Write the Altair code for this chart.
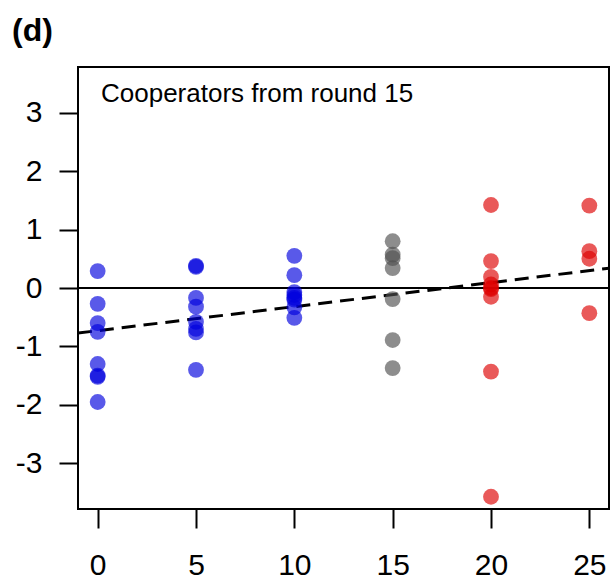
import altair as alt
import pandas as pd

round_0 = [0.29, -0.27, -0.60, -0.75, -1.30, -1.50, -1.52, -1.95]
round_5 = [0.38, 0.36, -0.17, -0.32, -0.58, -0.70, -0.76, -1.40]
round_10 = [0.55, 0.22, -0.07, -0.12, -0.17, -0.20, -0.33, -0.51]
round_15 = [0.80, 0.57, 0.51, 0.34, -0.19, -0.89, -1.37]
round_20 = [1.42, 0.46, 0.19, 0.06, 0.00, -0.02, -0.15, -1.43, -3.57]
round_25 = [1.41, 0.63, 0.50, -0.43]

groups = [(0, round_0, "before"), (5, round_5, "before"), (10, round_10, "before"),
          (15, round_15, "switch"), (20, round_20, "after"), (25, round_25, "after")]

x_ticks = [0, 5, 10, 15, 20, 25]
y_ticks = [-3, -2, -1, 0, 1, 2, 3]
x_domain = [-1, 26]
y_domain = [-3.78, 3.78]

# fitted trend (dashed line)
fit_intercept = -0.73
fit_slope = 0.0411

rows = []
for r, vals, g in groups:
    for v in vals:
        rows.append({"round": r, "value": v, "group": g})
df = pd.DataFrame(rows)

fit_df = pd.DataFrame({"round": x_domain,
                       "value": [fit_intercept + fit_slope * x for x in x_domain]})

FONT = "Liberation Sans"

xs = alt.Scale(domain=x_domain, nice=False, zero=False)
ys = alt.Scale(domain=y_domain, nice=False, zero=False)

x_axis = alt.Axis(values=x_ticks, title=None, labelPadding=22, tickSize=19,
                  labelFontSize=30, labelExpr="'' + datum.value")
y_axis = alt.Axis(values=y_ticks, title=None, labelPadding=17, tickSize=19,
                  labelFontSize=30, labelExpr="'' + datum.value")

points = alt.Chart(df).mark_circle(size=250, opacity=0.65, stroke=None).encode(
    x=alt.X("round:Q", scale=xs, axis=x_axis),
    y=alt.Y("value:Q", scale=ys, axis=y_axis),
    color=alt.Color("group:N", legend=None,
                    scale=alt.Scale(domain=["before", "switch", "after"],
                                    range=["#0000DD", "#505050", "#DD0000"])),
)

zero = alt.Chart(pd.DataFrame({"y": [0]})).mark_rule(color="black", strokeWidth=2).encode(
    y=alt.Y("y:Q", scale=ys)
)

trend = alt.Chart(fit_df).mark_line(color="black", strokeWidth=3, strokeDash=[14, 8],
                                    clip=True).encode(
    x=alt.X("round:Q", scale=xs),
    y=alt.Y("value:Q", scale=ys),
)

label = alt.Chart(pd.DataFrame({"t": ["Cooperators from round 15"]})).mark_text(
    align="left", baseline="alphabetic", fontSize=26, font=FONT, color="black"
).encode(text="t:N", x=alt.value(23), y=alt.value(35))

panel = alt.Chart(pd.DataFrame({"t": ["(d)"]})).mark_text(
    align="left", baseline="alphabetic", fontSize=32, font=FONT, fontWeight="bold",
    color="black"
).encode(text="t:N", x=alt.value(-66), y=alt.value(-26))

chart = alt.layer(zero, trend, points, label, panel).properties(
    width=531, height=442,
    autosize=alt.AutoSizeParams(type="none"),
    padding={"left": 78, "top": 67, "right": 2, "bottom": 73},
).configure_view(
    stroke="black", strokeWidth=2
).configure_axis(
    domain=False, grid=False, tickColor="black", tickWidth=2,
    labelColor="black", labelFont=FONT
)

chart.save("out.html", embed_options={"renderer": "svg", "actions": False})
